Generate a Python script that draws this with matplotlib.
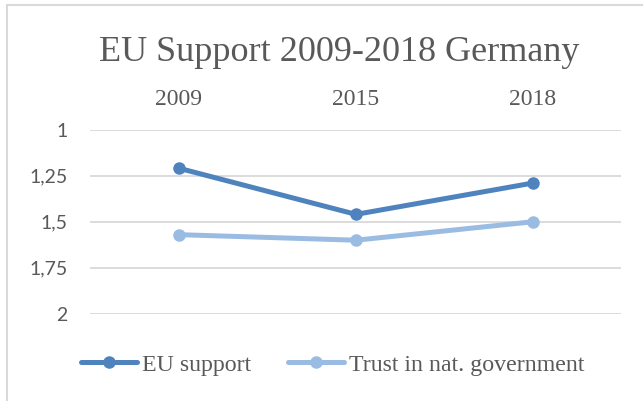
import matplotlib.pyplot as plt
from matplotlib.patches import Rectangle

years = ['2009', '2015', '2018']
eu_support = [1.21, 1.46, 1.29]
trust_gov = [1.57, 1.60, 1.50]
y_ticks = [1, 1.25, 1.5, 1.75, 2]
y_labels = ['1', '1,25', '1,5', '1,75', '2']

dark = '#4F83BD'
light = '#9BBCE2'
txt = '#595959'

fig = plt.figure(figsize=(6.43, 4.01), dpi=100)
ax = fig.add_axes([0.1407, 0.217, 0.8258, 0.460])

x = range(len(years))
ax.plot(x, eu_support, color=dark, lw=3.6, marker='o', ms=8, label='EU support', solid_capstyle='round')
ax.plot(x, trust_gov, color=light, lw=3.6, marker='o', ms=8, label='Trust in nat. government', solid_capstyle='round')

ax.set_xlim(-0.5, 2.5)
ax.set_ylim(2, 1)
ax.set_yticks(y_ticks)
ax.set_yticklabels(y_labels, family='Lato', fontsize=14, color=txt)
ax.set_xticks(list(x))
ax.set_xticklabels(years, family='Liberation Serif', fontsize=17, color=txt)
ax.xaxis.tick_top()
ax.tick_params(axis='x', length=0, pad=14)
ax.tick_params(axis='y', length=0, pad=16.5)
ax.grid(axis='y', color='#D9D9D9', lw=1.3)
ax.set_axisbelow(True)
for s in ax.spines.values():
    s.set_visible(False)

fig.text(0.527, 0.868, 'EU Support 2009-2018 Germany', ha='center', va='center',
         family='Liberation Serif', fontsize=26, color=txt)

leg = fig.legend(loc='center', bbox_to_anchor=(0.517, 0.09), ncol=2, frameon=False,
                 prop={'family': 'Liberation Serif', 'size': 17.2}, handlelength=2.35,
                 handletextpad=0.2, columnspacing=1.55)
for t in leg.get_texts():
    t.set_color(txt)

fig.patches.append(Rectangle((7 / 643, -0.1), 2, 1.1 - 5 / 401, transform=fig.transFigure,
                             fill=False, edgecolor='#D9D9D9', lw=1.5))

fig.savefig('out.png', dpi=100)
